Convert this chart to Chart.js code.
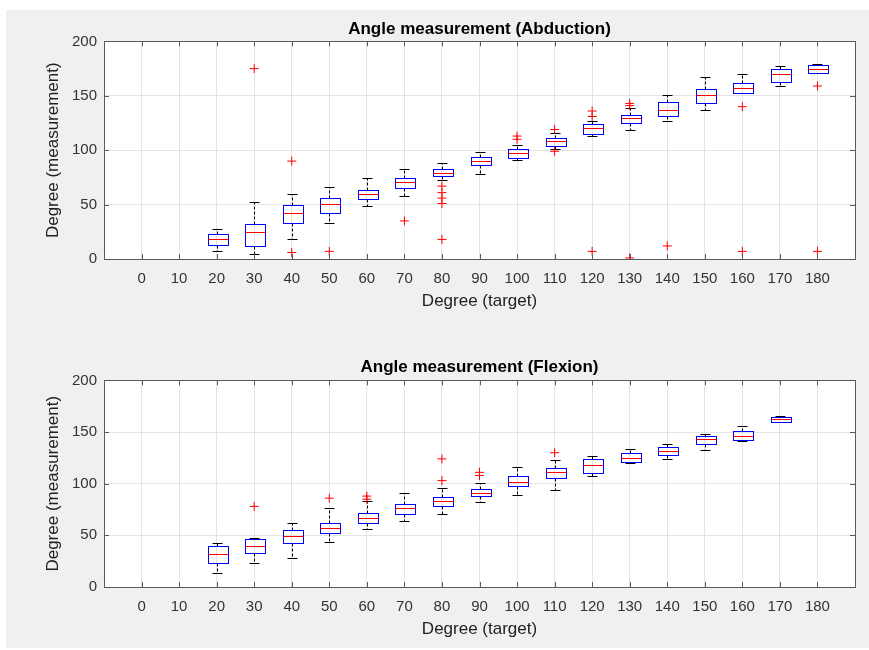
<!DOCTYPE html>
<html>
<head>
<meta charset="utf-8">
<script src="https://cdn.jsdelivr.net/npm/chart.js@4"></script>
<style>
  html, body { margin: 0; padding: 0; background: #fff; overflow: hidden; }
  #figure { position: absolute; left: 6px; top: 10px; width: 863px; height: 638px; background: #f0f0f0; }
  canvas { position: absolute; left: 6px; }
  #abdChart { top: 10px; }
  #flexChart { top: 314px; }
</style>
</head>
<body>
<div id="figure"></div>
<canvas id="abdChart" width="863" height="310"></canvas>
<canvas id="flexChart" width="863" height="334"></canvas>
<script>
// target angles (x categories) and y ticks
const targets = [0, 10, 20, 30, 40, 50, 60, 70, 80, 90, 100, 110, 120, 130, 140, 150, 160, 170, 180];
const yTicks = [0, 50, 100, 150, 200];

// Abduction box stats (null = no data at that target)
const abdLow  = [null, null, 7, 5, 18, 33, 49, 58, 73, 78, 91, 101, 113, 119, 127, 137, 153, 159, 171];
const abdQ1   = [null, null, 13, 12, 33, 42, 55, 65, 76, 86, 93, 104, 115, 125, 131, 143, 153, 163, 171];
const abdMed  = [null, null, 18, 25, 42, 51, 60, 71, 79, 90, 97, 108, 120, 130, 137, 151, 157, 170, 175];
const abdQ3   = [null, null, 23, 32, 50, 56, 63, 74, 83, 94, 101, 111, 124, 132, 144, 156, 162, 175, 178];
const abdHigh = [null, null, 28, 52, 60, 66, 74, 83, 88, 98, 105, 116, 127, 139, 151, 167, 170, 177, 179];
const abdOut  = [[], [], [], [175], [90, 6], [7], [], [35], [67, 61, 56, 51, 18], [], [110, 113], [119, 99],
                 [136, 131, 7], [143, 141, 1], [12], [], [140, 7], [], [159, 7]];

// Flexion box stats
const flexLow  = [null, null, 14, 23, 28, 44, 56, 64, 71, 82, 89, 94, 107, 120, 124, 133, 141, 160, null];
const flexQ1   = [null, null, 23, 33, 43, 52, 62, 71, 78, 88, 98, 106, 110, 121, 128, 138, 142, 160, null];
const flexMed  = [null, null, 32, 40, 49, 57, 67, 76, 83, 91, 102, 111, 118, 125, 132, 143, 146, 163, null];
const flexQ3   = [null, null, 40, 46, 55, 62, 72, 80, 87, 95, 107, 115, 124, 130, 136, 146, 151, 165, null];
const flexHigh = [null, null, 43, 47, 62, 76, 83, 91, 96, 101, 116, 123, 127, 134, 138, 148, 156, 166, null];
const flexOut  = [[], [], [], [78], [], [86], [88, 85], [], [124, 103], [111, 108], [], [130],
                  [], [], [], [], [], [], []];

const FONT = "'Liberation Sans', Arial, sans-serif";

function outlierPoints(outs) {
  return targets.flatMap((t, i) => outs[i].map(v => ({ x: t, y: v })));
}

const boxPlugin = {
  id: 'boxes',
  beforeDraw(chart) {
    const { ctx, chartArea: a } = chart;
    ctx.save();
    ctx.fillStyle = '#ffffff';
    ctx.fillRect(a.left, a.top, a.right - a.left, a.bottom - a.top);
    ctx.restore();
  },
  beforeDatasetsDraw(chart, args, opts) {
    const ctx = chart.ctx;
    const xs = chart.scales.x, ys = chart.scales.y;
    const unit = xs.getPixelForValue(10) - xs.getPixelForValue(0);
    const half = unit * 0.26;
    const cap = Math.round(unit * 0.12);
    const px = v => Math.round(ys.getPixelForValue(v)) + 0.5;
    ctx.save();
    ctx.lineWidth = 1;
    targets.forEach((t, i) => {
      if (opts.q1[i] == null) return;
      const cx = Math.round(xs.getPixelForValue(t)) + 0.5;
      const xl = Math.round(cx - half) + 0.5;
      const w = Math.round(half * 2);
      const pLow = px(opts.low[i]), pQ1 = px(opts.q1[i]), pMed = px(opts.med[i]);
      const pQ3 = px(opts.q3[i]), pHigh = px(opts.high[i]);

      // whiskers
      ctx.strokeStyle = '#000000';
      ctx.setLineDash([3, 2]);
      ctx.beginPath();
      ctx.moveTo(cx, pQ3); ctx.lineTo(cx, pHigh);
      ctx.moveTo(cx, pQ1); ctx.lineTo(cx, pLow);
      ctx.stroke();
      ctx.setLineDash([]);
      ctx.beginPath();
      ctx.moveTo(cx - cap, pHigh); ctx.lineTo(cx + cap, pHigh);
      ctx.moveTo(cx - cap, pLow); ctx.lineTo(cx + cap, pLow);
      ctx.stroke();

      // box
      ctx.strokeStyle = '#0000ff';
      ctx.strokeRect(xl, pQ3, w, pQ1 - pQ3);

      // median
      ctx.strokeStyle = '#ff0000';
      ctx.beginPath();
      ctx.moveTo(xl, pMed); ctx.lineTo(xl + w, pMed);
      ctx.stroke();
    });
    ctx.restore();
  },
  afterDraw(chart) {
    const { ctx, chartArea: a } = chart;
    const xs = chart.scales.x, ys = chart.scales.y;
    const tl = 5;
    ctx.save();
    ctx.strokeStyle = '#5a5a5a';
    ctx.lineWidth = 1;
    ctx.beginPath();
    targets.forEach(t => {
      const p = Math.round(xs.getPixelForValue(t)) + 0.5;
      ctx.moveTo(p, a.bottom); ctx.lineTo(p, a.bottom - tl);
      ctx.moveTo(p, a.top); ctx.lineTo(p, a.top + tl);
    });
    yTicks.forEach(v => {
      const p = Math.round(ys.getPixelForValue(v)) + 0.5;
      ctx.moveTo(a.left, p); ctx.lineTo(a.left + tl, p);
      ctx.moveTo(a.right, p); ctx.lineTo(a.right - tl, p);
    });
    ctx.stroke();
    ctx.strokeRect(Math.round(a.left) + 0.5, Math.round(a.top) + 0.5,
                   Math.round(a.right - a.left), Math.round(a.bottom - a.top));
    ctx.restore();
  }
};

function makeChart(id, title, titlePad, low, q1, med, q3, high, outs) {
  return new Chart(document.getElementById(id), {
    type: 'scatter',
    data: {
      datasets: [{
        data: outlierPoints(outs),
        pointStyle: 'cross',
        radius: 4.5,
        borderColor: '#ff0000',
        backgroundColor: '#ff0000',
        borderWidth: 1
      }]
    },
    options: {
      responsive: false,
      animation: false,
      events: [],
      layout: { padding: { left: 28, right: 14, top: 0, bottom: 0 } },
      plugins: {
        legend: { display: false },
        tooltip: { enabled: false },
        title: {
          display: true,
          text: title,
          fullSize: false,
          color: '#000000',
          font: { family: FONT, size: 17, weight: 'bold' },
          padding: titlePad
        },
        boxes: { low, q1, med, q3, high }
      },
      scales: {
        x: {
          type: 'linear',
          min: -10,
          max: 190,
          afterBuildTicks: s => { s.ticks = targets.map(v => ({ value: v })); },
          afterFit: s => { s.height = 61; },
          grid: { color: '#e4e4e4', drawTicks: false },
          border: { display: false },
          ticks: { color: '#333333', padding: 11, maxRotation: 0, autoSkip: false,
                   font: { family: FONT, size: 15 } },
          title: { display: true, text: 'Degree (target)', color: '#222222',
                   font: { family: FONT, size: 17 }, padding: { top: 0, bottom: 8 } }
        },
        y: {
          min: 0,
          max: 200,
          afterBuildTicks: s => { s.ticks = yTicks.map(v => ({ value: v })); },
          afterFit: s => { s.width = 70; },
          grid: { color: '#e4e4e4', drawTicks: false },
          border: { display: false },
          ticks: { color: '#333333', padding: 7, font: { family: FONT, size: 15 } },
          title: { display: true, text: 'Degree (measurement)', color: '#222222',
                   font: { family: FONT, size: 17 }, padding: { top: 9, bottom: 0 } }
        }
      }
    },
    plugins: [boxPlugin]
  });
}

makeChart('abdChart', 'Angle measurement (Abduction)', { top: 9.5, bottom: 1.5 },
  abdLow, abdQ1, abdMed, abdQ3, abdHigh, abdOut);
makeChart('flexChart', 'Angle measurement (Flexion)', { top: 43.5, bottom: 2.5 },
  flexLow, flexQ1, flexMed, flexQ3, flexHigh, flexOut);
</script>
</body>
</html>
